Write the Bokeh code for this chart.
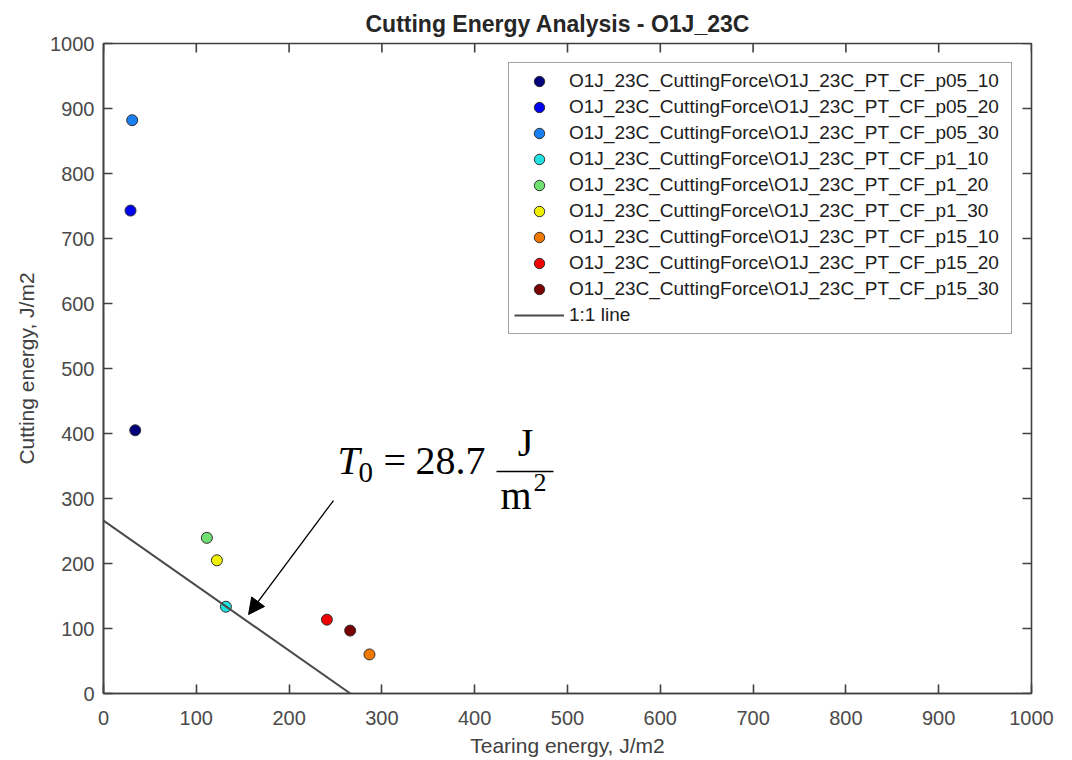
import math
from bokeh.plotting import figure
from bokeh.models import (Range1d, FixedTicker, Label, Arrow, NormalHead,
                          Legend, LegendItem)
from bokeh.embed import file_html
from bokeh.resources import INLINE

# ---------------- data ----------------
TITLE = "Cutting Energy Analysis - O1J_23C"
X_LABEL = "Tearing energy, J/m2"
Y_LABEL = "Cutting energy, J/m2"
TICKS = [0, 100, 200, 300, 400, 500, 600, 700, 800, 900, 1000]
AXIS_MIN = 0
AXIS_MAX = 1000

series_names = [
    "O1J_23C_CuttingForce\\O1J_23C_PT_CF_p05_10",
    "O1J_23C_CuttingForce\\O1J_23C_PT_CF_p05_20",
    "O1J_23C_CuttingForce\\O1J_23C_PT_CF_p05_30",
    "O1J_23C_CuttingForce\\O1J_23C_PT_CF_p1_10",
    "O1J_23C_CuttingForce\\O1J_23C_PT_CF_p1_20",
    "O1J_23C_CuttingForce\\O1J_23C_PT_CF_p1_30",
    "O1J_23C_CuttingForce\\O1J_23C_PT_CF_p15_10",
    "O1J_23C_CuttingForce\\O1J_23C_PT_CF_p15_20",
    "O1J_23C_CuttingForce\\O1J_23C_PT_CF_p15_30",
]
tearing_energy = [34.2, 29.1, 30.9, 131.9, 111.4, 122.2, 286.6, 240.7, 265.8]
cutting_energy = [405.0, 743.0, 882.0, 133.5, 239.5, 204.9, 60.1, 113.6, 96.8]
series_colors = ["#00007a", "#0000f0", "#1a80f0", "#20e0e0", "#70e070",
                 "#f0f000", "#f07800", "#f00000", "#780000"]

line_label = "1:1 line"
line_x = [0, 266]
line_y = [266, 0]

# annotation text
ANN_T = "T"
ANN_SUB = "0"
ANN_EQ = "="
ANN_VAL = "28.7"
ANN_NUM = "J"
ANN_DEN = "m"
ANN_SUP = "2"

# ---------------- figure ----------------
AX = "#404040"
FONT = "Liberation Sans"
SERIF = "Liberation Serif"

p = figure(width=1072, height=760, output_backend="svg", toolbar_location=None,
           x_range=Range1d(AXIS_MIN, AXIS_MAX), y_range=Range1d(AXIS_MIN, AXIS_MAX),
           min_border_left=103, min_border_right=41, min_border_top=43,
           min_border_bottom=67, background_fill_color="white",
           border_fill_color="white")
p.grid.visible = False
p.outline_line_color = AX
p.outline_line_width = 1.6

p.title.text = TITLE
p.title.align = "left"
p.title.offset = 262
p.title.vertical_align = "top"
p.title.text_font = FONT
p.title.text_font_size = "23px"
p.title.text_font_style = "bold"
p.title.text_color = "#262626"
p.title.standoff = 10

ticker = FixedTicker(ticks=TICKS)

for ax in (p.xaxis[0], p.yaxis[0]):
    ax.ticker = ticker
    ax.axis_line_color = AX
    ax.axis_line_width = 1.6
    ax.major_tick_line_color = AX
    ax.major_tick_line_width = 1.6
    ax.major_tick_in = 9
    ax.major_tick_out = 0
    ax.minor_tick_line_color = None
    ax.major_label_text_font = FONT
    ax.major_label_text_font_size = "20px"
    ax.major_label_text_color = "#4a4a4a"
    ax.axis_label_text_font = FONT
    ax.axis_label_text_font_size = "21px"
    ax.axis_label_text_font_style = "normal"
    ax.axis_label_text_color = "#404040"

p.xaxis[0].axis_label = X_LABEL
p.yaxis[0].axis_label = Y_LABEL
p.xaxis[0].major_label_standoff = 17
p.xaxis[0].axis_label_standoff = 6
p.yaxis[0].major_label_standoff = 9
p.yaxis[0].axis_label_standoff = 9

# inward ticks on the top and right edges of the box (half of each dash is clipped)
p.scatter(TICKS, [AXIS_MAX] * len(TICKS), marker="dash", size=18, angle=math.pi / 2,
          line_color=AX, line_width=1.6)
p.scatter([AXIS_MAX] * len(TICKS), TICKS, marker="dash", size=18,
          line_color=AX, line_width=1.6)

# data
items = []
for name, tx, cy, col in zip(series_names, tearing_energy, cutting_energy, series_colors):
    r = p.scatter([tx], [cy], size=11, fill_color=col, line_color="#303030",
                  line_width=1)
    items.append(LegendItem(label=name, renderers=[r]))

lr = p.line(line_x, line_y, line_color="#4a4a4a", line_width=2)
items.append(LegendItem(label=line_label, renderers=[lr]))

legend = Legend(items=items, location="top_right", margin=19, padding=5,
                spacing=0, glyph_width=50, glyph_height=26, label_height=26,
                label_width=437, label_standoff=5, label_text_font=FONT,
                label_text_font_size="19px", label_text_color="#202020",
                border_line_color="#4a4a4a", border_line_width=1.8,
                background_fill_color="white", background_fill_alpha=1.0)
p.add_layout(legend)

# annotation (T0 = 28.7 J/m^2) with arrow
def lab(x, y, text, size, style="normal", align="left"):
    p.add_layout(Label(x=x, y=y, text=text, text_font=SERIF,
                       text_font_size=size, text_font_style=style,
                       text_align=align, text_baseline="middle",
                       text_color="black"))

lab(252.2, 358.0, ANN_T, "40px", "italic")
lab(274.8, 340.0, ANN_SUB, "29px")
lab(301.7, 358.0, ANN_EQ, "40px")
lab(336.2, 358.0, ANN_VAL, "40px")
lab(454.7, 386.0, ANN_NUM, "40px", align="center")
lab(427.8, 305.0, ANN_DEN, "40px")
lab(463.4, 325.0, ANN_SUP, "26px")
p.add_layout(Arrow(end=None, x_start=423.5, y_start=341.5, x_end=484.9,
                   y_end=341.5, line_color="black", line_width=1.5))
p.add_layout(Arrow(end=NormalHead(size=16, fill_color="black", line_color="black"),
                   x_start=247.8, y_start=296.9, x_end=156.3, y_end=121.5,
                   line_color="black", line_width=1.3))

open("out.html", "w").write(file_html(p, INLINE))
